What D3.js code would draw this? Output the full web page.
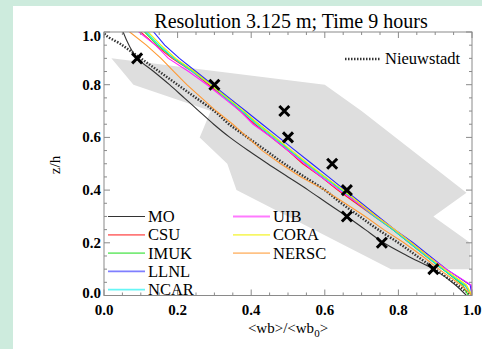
<!DOCTYPE html>
<html>
<head>
<meta charset="utf-8">
<script src="https://cdn.jsdelivr.net/npm/d3@7"></script>
<style>
  html, body { margin: 0; padding: 0; background: #cdebdd; }
  svg { display: block; }
  text { font-family: "Liberation Serif", "DejaVu Serif", serif; fill: #000; }
</style>
</head>
<body>
<div id="vis"></div>
<script>
// heights z/h where every profile is given
var zGrid = [0, 0.04, 0.1, 0.15, 0.2, 0.25, 0.3, 0.35, 0.4, 0.45, 0.5, 0.55, 0.6, 0.65, 0.7, 0.75, 0.8, 0.85, 0.9, 0.95, 1.0, 1.05];

// <wb>/<wb0> per model
var moVals     = [0.985, 0.955, 0.895, 0.825, 0.76, 0.71, 0.66, 0.607, 0.555, 0.50, 0.445, 0.392, 0.342, 0.298, 0.258, 0.218, 0.178, 0.135, 0.09, 0.068, 0.052, 0.04];
var csuVals    = [1.0, 0.98, 0.92, 0.875, 0.83, 0.785, 0.735, 0.685, 0.635, 0.59, 0.54, 0.50, 0.455, 0.41, 0.37, 0.33, 0.285, 0.24, 0.185, 0.14, 0.1, 0.075];
var imukVals   = [0.99, 0.975, 0.92, 0.875, 0.83, 0.785, 0.74, 0.69, 0.645, 0.6, 0.55, 0.505, 0.465, 0.42, 0.375, 0.335, 0.29, 0.245, 0.19, 0.145, 0.11, 0.085];
var llnlVals   = [1.0, 0.995, 0.93, 0.885, 0.84, 0.79, 0.745, 0.70, 0.655, 0.61, 0.565, 0.52, 0.475, 0.43, 0.385, 0.34, 0.295, 0.25, 0.205, 0.165, 0.135, 0.11];
var ncarVals   = [1.0, 0.98, 0.92, 0.875, 0.83, 0.785, 0.735, 0.69, 0.645, 0.595, 0.55, 0.505, 0.46, 0.415, 0.375, 0.33, 0.29, 0.24, 0.19, 0.15, 0.115, 0.09];
var uibVals    = [1.0, 0.998, 0.93, 0.88, 0.835, 0.79, 0.74, 0.69, 0.64, 0.59, 0.545, 0.5, 0.455, 0.405, 0.37, 0.325, 0.28, 0.23, 0.175, 0.14, 0.095, 0.07];
var coraVals   = [1.0, 0.985, 0.925, 0.88, 0.835, 0.79, 0.74, 0.695, 0.65, 0.60, 0.555, 0.51, 0.465, 0.42, 0.38, 0.335, 0.29, 0.245, 0.195, 0.155, 0.12, 0.095];
var nerscVals  = [1.0, 0.97, 0.91, 0.865, 0.815, 0.76, 0.71, 0.655, 0.6, 0.535, 0.48, 0.43, 0.39, 0.35, 0.305, 0.265, 0.225, 0.19, 0.155, 0.115, 0.07, 0.04];
var nieuwVals  = [1.0, 0.96, 0.9, 0.85, 0.80, 0.745, 0.695, 0.645, 0.60, 0.545, 0.49, 0.44, 0.39, 0.34, 0.30, 0.25, 0.20, 0.15, 0.10, 0.05, 0.0, 0.0];

var modelNames  = ["MO", "CSU", "IMUK", "LLNL", "NCAR", "UIB", "CORA", "NERSC"];
var modelColors = ["#333333", "#ff2020", "#22dd22", "#2a2aff", "#00f0f0", "#ff22ff", "#f0f000", "#ff9933"];
var modelVals   = [moVals, csuVals, imukVals, llnlVals, ncarVals, uibVals, coraVals, nerscVals];

// observations (crosses) and the grey spread envelope, [wb, z]
var obsWb = [0.09, 0.30, 0.49, 0.50, 0.62, 0.66, 0.66, 0.755, 0.895];
var obsZ  = [0.9, 0.8, 0.7, 0.6, 0.5, 0.4, 0.3, 0.2, 0.1];
var envelope = [[0.02, 0.9], [0.6, 0.8], [0.7, 0.7], [0.985, 0.39], [0.895, 0.3], [0.995, 0.2],
                [0.995, 0.1], [0.78, 0.1], [0.36, 0.4], [0.335, 0.5], [0.26, 0.6], [0.29, 0.7], [0.08, 0.8]];

var xTicks = [0, 0.2, 0.4, 0.6, 0.8, 1.0];
var yTicks = [0, 0.2, 0.4, 0.6, 0.8, 1.0];

var W = 482, H = 349;
var pLeft = 104, pRight = 472, pTop = 32, pBottom = 295.5;

var svg = d3.select("#vis").append("svg").attr("width", W).attr("height", H);

// white panel on the mint page
svg.append("rect").attr("x", 13).attr("y", 6).attr("width", W - 13).attr("height", H - 6).attr("fill", "#fff");

var x = d3.scaleLinear().domain([0, 1]).range([pLeft, pRight]);
var y = d3.scaleLinear().domain([0, 1]).range([pBottom, pTop]);

svg.append("clipPath").attr("id", "plotclip")
  .append("rect").attr("x", pLeft).attr("y", pTop).attr("width", pRight - pLeft).attr("height", pBottom - pTop);

var g = svg.append("g").attr("clip-path", "url(#plotclip)");

var line = d3.line()
  .x(function (d) { return x(d[0]); })
  .y(function (d) { return y(d[1]); });

var smooth = d3.line()
  .x(function (d) { return x(d[0]); })
  .y(function (d) { return y(d[1]); })
  .curve(d3.curveMonotoneY);

// grey envelope
g.append("path")
  .attr("d", line(envelope) + "Z")
  .attr("fill", "#dedede");

function pairs(vals) {
  return vals.map(function (v, i) { return [v, zGrid[i]]; });
}

// Nieuwstadt dotted
g.append("path")
  .attr("d", smooth(pairs(nieuwVals)))
  .attr("fill", "none")
  .attr("stroke", "#333")
  .attr("stroke-width", 2.5)
  .attr("stroke-dasharray", "1.5,1.5");

modelVals.forEach(function (vals, i) {
  g.append("path")
    .attr("d", (i === 0 ? smooth : line)(pairs(vals)))
    .attr("fill", "none")
    .attr("stroke", modelColors[i])
    .attr("stroke-width", 1.1);
});

// crosses
var cross = svg.append("g");
obsWb.forEach(function (wb, i) {
  var cx = x(wb), cy = y(obsZ[i]), r = 5;
  cross.append("path")
    .attr("d", "M" + (cx - r) + "," + (cy - r) + "L" + (cx + r) + "," + (cy + r) +
               "M" + (cx - r) + "," + (cy + r) + "L" + (cx + r) + "," + (cy - r))
    .attr("stroke", "#000")
    .attr("stroke-width", 3);
});

// frame and inward ticks on all four sides
var axisColor = "#8a8a8a";
svg.append("rect").attr("x", pLeft).attr("y", pTop).attr("width", pRight - pLeft).attr("height", pBottom - pTop)
  .attr("fill", "none").attr("stroke", axisColor).attr("stroke-width", 1);

var minor = d3.range(0, 1.0001, 0.05);
minor.forEach(function (v, i) {
  var len = (i % 4 === 0) ? 6 : 3;
  var px = x(v), py = y(v);
  svg.append("line").attr("x1", px).attr("x2", px).attr("y1", pBottom).attr("y2", pBottom - len).attr("stroke", axisColor);
  svg.append("line").attr("x1", px).attr("x2", px).attr("y1", pTop).attr("y2", pTop + len).attr("stroke", axisColor);
  svg.append("line").attr("y1", py).attr("y2", py).attr("x1", pLeft).attr("x2", pLeft + len).attr("stroke", axisColor);
  svg.append("line").attr("y1", py).attr("y2", py).attr("x1", pRight).attr("x2", pRight - len).attr("stroke", axisColor);
});

// tick labels
svg.selectAll(".xlab").data(xTicks).enter().append("text")
  .attr("x", function (d) { return x(d); })
  .attr("y", pBottom + 19)
  .attr("text-anchor", "middle")
  .style("font-size", "15px").style("font-weight", "bold")
  .text(function (d) { return d3.format(".1f")(d); });

svg.selectAll(".ylab").data(yTicks).enter().append("text")
  .attr("x", pLeft - 3)
  .attr("y", function (d) { return y(d) + 5 + (d === 1 ? 4 : 0) - (d === 0 ? 3 : 0); })
  .attr("text-anchor", "end")
  .style("font-size", "15px").style("font-weight", "bold")
  .text(function (d) { return d3.format(".1f")(d); });

// title and axis titles
svg.append("text").attr("x", 291).attr("y", 28).attr("text-anchor", "middle")
  .style("font-size", "20px").text("Resolution 3.125 m; Time 9 hours");

svg.append("text").attr("transform", "translate(60,165) rotate(-90)").attr("text-anchor", "middle")
  .style("font-size", "15px").text("z/h");

var xt = svg.append("text").attr("x", 288).attr("y", 333).attr("text-anchor", "middle").style("font-size", "15px");
xt.append("tspan").text("<wb>/<wb");
xt.append("tspan").attr("dy", 4).style("font-size", "11px").text("0");
xt.append("tspan").attr("dy", -4).text(">");

// Nieuwstadt key
svg.append("line").attr("x1", 345).attr("x2", 380).attr("y1", 59).attr("y2", 59)
  .attr("stroke", "#333").attr("stroke-width", 2.5).attr("stroke-dasharray", "1.5,1.5");
svg.append("text").attr("x", 385).attr("y", 64).style("font-size", "16.5px").text("Nieuwstadt");

// model key, two columns
modelNames.forEach(function (name, i) {
  var col = i < 5 ? 0 : 1;
  var row = i < 5 ? i : i - 5;
  var lx = col === 0 ? 108 : 233;
  var ly = 216.5 + row * 18.3;
  svg.append("line").attr("x1", lx).attr("x2", lx + 37).attr("y1", ly).attr("y2", ly)
    .attr("stroke", modelColors[i]).attr("stroke-width", i === 0 ? 1.2 : 1.8).attr("stroke-opacity", i === 0 ? 1 : 0.6);
  svg.append("text").attr("x", lx + 40).attr("y", ly + 5.5).style("font-size", "16.5px").text(name);
});
</script>
</body>
</html>
